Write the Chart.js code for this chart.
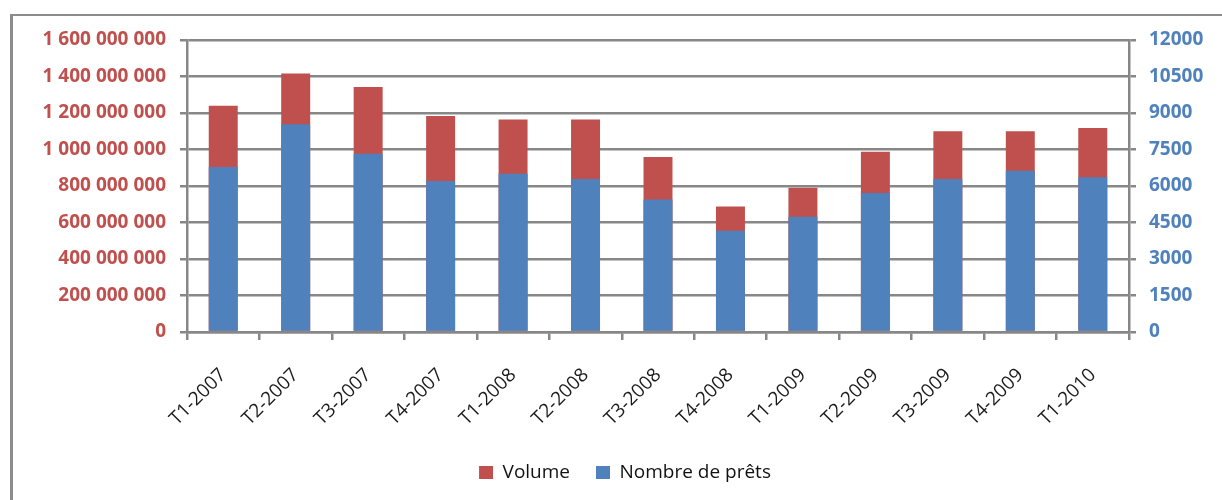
<!DOCTYPE html>
<html>
<head>
<meta charset="utf-8">
<title>Volume et nombre de prêts</title>
<script src="https://cdn.jsdelivr.net/npm/chart.js@4.4.1/dist/chart.umd.min.js"></script>
<style>
  html, body { margin: 0; padding: 0; background: #fff; overflow: hidden; }
  #frame {
    position: absolute; left: 10px; top: 14px; width: 1300px; height: 600px;
    border-left: 3px solid #8c8c8c; border-top: 2px solid #8c8c8c;
  }
  #wrap { position: absolute; left: 0; top: 0; width: 1222px; height: 500px; }
</style>
</head>
<body>
<div id="frame"></div>
<div id="wrap"><canvas id="loansChart" width="1222" height="500"></canvas></div>
<script>
// quarters on the x axis
const quarters = [
  'T1-2007', 'T2-2007', 'T3-2007', 'T4-2007',
  'T1-2008', 'T2-2008', 'T3-2008', 'T4-2008',
  'T1-2009', 'T2-2009', 'T3-2009', 'T4-2009',
  'T1-2010'
];

// Volume (left axis)
const volume = [
  1240000000, 1417000000, 1342000000, 1184000000,
  1165000000, 1165000000, 959000000, 687000000,
  791000000, 988000000, 1100000000, 1100000000,
  1118000000
];

// Nombre de prêts (right axis)
const nbPrets = [
  6780, 8535, 7330, 6205,
  6505, 6290, 5450, 4165,
  4740, 5710, 6290, 6630,
  6355
];

// axis ranges
const volumeMax = 1600000000;
const volumeStep = 200000000;
const pretsMax = 12000;
const pretsStep = 1500;

const RED = '#C0504D';
const BLUE = '#4F81BD';
const GRID = '#878787';

// "1600000000" -> "1 600 000 000"
function spaced(v) {
  return String(v).replace(/\B(?=(\d{3})+(?!\d))/g, ' ');
}

const ctx = document.getElementById('loansChart').getContext('2d');
new Chart(ctx, {
  type: 'bar',
  data: {
    labels: quarters,
    datasets: [
      {
        label: 'Volume',
        data: volume,
        yAxisID: 'y',
        backgroundColor: RED,
        grouped: false,
        order: 2,
        barPercentage: 0.4,
        categoryPercentage: 1
      },
      {
        label: 'Nombre de prêts',
        data: nbPrets,
        yAxisID: 'y1',
        backgroundColor: BLUE,
        grouped: false,
        order: 1,
        barPercentage: 0.4,
        categoryPercentage: 1
      }
    ]
  },
  options: {
    responsive: false,
    animation: false,
    layout: {
      padding: { top: 40, right: 0, bottom: 8, left: 28 }
    },
    scales: {
      x: {
        grid: {
          drawOnChartArea: false,
          drawTicks: true,
          tickLength: 8,
          color: GRID,
          lineWidth: 2.5
        },
        border: { color: GRID, width: 2.5 },
        ticks: {
          minRotation: 45,
          maxRotation: 45,
          padding: 24,
          color: '#1a1a1a',
          font: { family: '"Open Sans", sans-serif', size: 19 }
        },
        afterFit: (scale) => { scale.height = 105; }
      },
      y: {
        position: 'left',
        min: 0,
        max: volumeMax,
        ticks: {
          stepSize: volumeStep,
          padding: 14,
          color: RED,
          font: { family: '"Open Sans", sans-serif', size: 19, weight: 'bold' },
          callback: (v) => spaced(v)
        },
        grid: {
          color: GRID,
          lineWidth: 2.5,
          tickLength: 7
        },
        border: { color: GRID, width: 2.5 },
        afterFit: (scale) => { scale.width = 159; }
      },
      y1: {
        position: 'right',
        min: 0,
        max: pretsMax,
        ticks: {
          stepSize: pretsStep,
          padding: 13,
          color: BLUE,
          font: { family: '"Open Sans", sans-serif', size: 19, weight: 'bold' },
          callback: (v) => String(v)
        },
        grid: {
          drawOnChartArea: false,
          color: GRID,
          lineWidth: 2.5,
          tickLength: 7
        },
        border: { color: GRID, width: 2.5 },
        afterFit: (scale) => { scale.width = 93; }
      }
    },
    plugins: {
      legend: {
        position: 'bottom',
        labels: {
          boxWidth: 14,
          boxHeight: 13,
          padding: 26,
          color: '#111',
          font: { family: '"Open Sans", sans-serif', size: 19 },
          sort: (a, b) => a.datasetIndex - b.datasetIndex
        }
      },
      tooltip: { enabled: false }
    }
  }
});
</script>
</body>
</html>
